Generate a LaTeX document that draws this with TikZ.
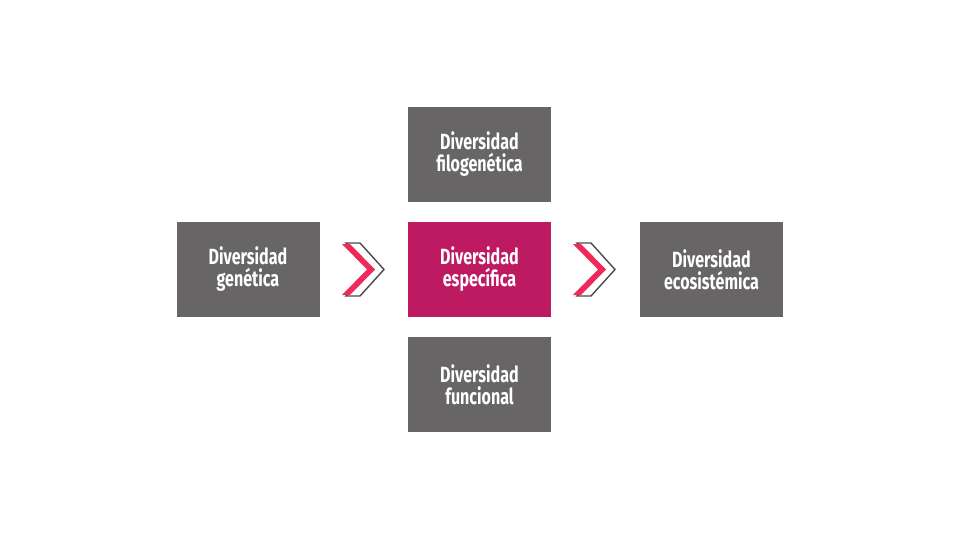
\documentclass[tikz,border=0pt]{standalone}
\usepackage{fontspec}
\setmainfont{Fira Sans}[FakeStretch=0.73]
\definecolor{boxgray}{HTML}{676566}
\definecolor{boxmag}{HTML}{BE1A62}
\definecolor{chevpink}{HTML}{EE2A5C}
\definecolor{chevgray}{HTML}{4A4A4A}
\tikzset{
  dbox/.style={fill=boxgray, minimum width=143pt, minimum height=95pt, inner sep=0pt,
    text=white, font=\fontsize{22}{22}\selectfont\bfseries, align=center},
  magbox/.style={dbox, fill=boxmag}
}
\newcommand{\chevron}[2]{%
  \begin{scope}[shift={(#1,#2)}]
    \draw[chevgray, line width=1.4pt, fill=white, line join=miter]
      (4,0) -- (18,0) -- (42,26.5) -- (18,53) -- (4,53) -- (28,26.5) -- cycle;
    \fill[chevpink]
      (0,1) -- (8,1) -- (33,26.5) -- (8,52) -- (0,52) -- (25,26.5) -- cycle;
  \end{scope}}
\begin{document}
\begin{tikzpicture}[x=1pt,y=-1pt]
\useasboundingbox (0,0) rectangle (960,540);
\fill[white] (0,0) rectangle (960,540);
\node[dbox] (gen) at (248,269.5) {Diversidad\\genética};
\node[magbox] (esp) at (479.5,269.5) {Diversidad\\específica};
\node[dbox] (fil) at (479.5,154.5) {Diversidad\\filogenética};
\node[dbox] (fun) at (479.5,384.5) {Diversidad\\funcional};
\node[dbox] (eco) at (711.5,269.5) {Diversidad\\ecosistémica};
\chevron{342}{243}
\chevron{573}{243}
\end{tikzpicture}
\end{document}
